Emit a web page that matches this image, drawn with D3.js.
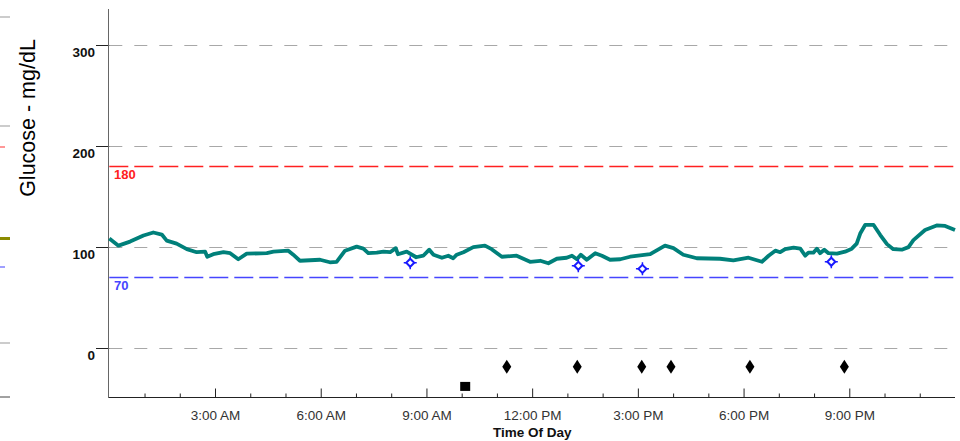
<!DOCTYPE html>
<html>
<head>
<meta charset="utf-8">
<script src="https://cdn.jsdelivr.net/npm/d3@7"></script>
<style>
  body { margin: 0; background: #fff; }
  svg { display: block; font-family: "Liberation Sans", Arial, sans-serif; }
</style>
</head>
<body>
<div id="chart"></div>
<script>
// glucose trace: hour of day, mg/dL
const sensorHours = [0.00,0.26,0.59,0.97,1.25,1.49,1.63,1.91,2.20,2.48,2.72,2.78,2.95,3.24,3.43,3.66,3.90,4.47,4.66,5.08,5.22,5.41,5.98,6.26,6.45,6.69,7.02,7.21,7.35,7.59,7.78,7.97,8.13,8.19,8.44,8.71,8.91,9.08,9.20,9.44,9.62,9.76,9.86,10.05,10.33,10.66,10.85,11.14,11.56,11.94,12.23,12.46,12.70,12.98,13.13,13.27,13.38,13.55,13.79,13.98,14.21,14.50,14.78,15.35,15.77,16.01,16.29,16.67,17.33,17.71,18.14,18.52,18.71,18.90,19.04,19.18,19.42,19.61,19.75,19.84,19.98,20.08,20.17,20.29,20.41,20.65,20.88,21.07,21.21,21.31,21.45,21.69,21.88,22.07,22.25,22.49,22.68,22.82,23.15,23.48,23.72,24.00];
const sensorValues = [108,101,105,111,114,112,106,103,97.5,94.5,95,90,92.5,94.5,93.5,87.5,93,93.5,95,96,92,86,87,84.5,85,96,100,98,93.5,94,95,94.5,98.5,92.5,95,89.5,91,97,92,89,91,88.5,92,94.5,99.5,101,97.5,90,91,85,86,83.5,88,89,91,87.5,92,87,93.5,91,87,87.5,90,92.5,101,98.5,92,88.5,88,86.5,89,85,91,96,94.5,97.5,99,98,91,94,94,98,93.5,97,93.5,93,95,98,103,113,121.5,121.5,111.5,102.5,97.5,97,99.5,106.5,116.5,121,120.5,116.5];

// fingerstick meter readings
const meterHours = [8.54, 13.31, 15.13, 20.49];
const meterValues = [84, 81, 78, 85];

// event markers
const eventHours = [11.28, 13.28, 15.11, 15.94, 18.18, 20.86];
const eventValue = -19;
const otherHours = [10.1];
const otherValue = -39;

const gridValues = [0, 100, 200, 300];
const highLimit = 180;
const lowLimit = 70;
const tickHours = [3, 6, 9, 12, 15, 18, 21];
const tickLabels = ["3:00 AM", "6:00 AM", "9:00 AM", "12:00 PM", "3:00 PM", "6:00 PM", "9:00 PM"];

const width = 960, height = 441;
const svg = d3.select("#chart").append("svg")
  .attr("width", width)
  .attr("height", height);

const x = d3.scaleLinear().domain([0, 24]).range([109.3, 955]);
const y = d3.scaleLinear().domain([-49.5, 336]).range([397.5, 8.5]);

// remnants of the neighbouring chart at the far left
const stubs = [
  {y: 17, w: 10, c: "#999", s: 1},
  {y: 126, w: 10, c: "#999", s: 1},
  {y: 147, w: 5, c: "#ff3030", s: 1},
  {y: 238.5, w: 10, c: "#8b8b00", s: 3},
  {y: 267, w: 5, c: "#4040ff", s: 1},
  {y: 343, w: 10, c: "#999", s: 1},
  {y: 397, w: 10, c: "#444", s: 1}
];
svg.selectAll("line.stub").data(stubs).enter().append("line")
  .attr("class", "stub")
  .attr("x1", 0).attr("x2", d => d.w)
  .attr("y1", d => d.y).attr("y2", d => d.y)
  .attr("stroke", d => d.c).attr("stroke-width", d => d.s);

// y axis label
svg.append("text")
  .attr("transform", "translate(35,118) rotate(-90)")
  .attr("text-anchor", "middle")
  .attr("font-size", "21.5px")
  .attr("fill", "#000")
  .text("Glucose - mg/dL");

// grid lines
svg.selectAll("line.grid").data(gridValues).enter().append("line")
  .attr("class", "grid")
  .attr("x1", x(0)).attr("x2", x(24))
  .attr("y1", d => Math.round(y(d)) + 0.5).attr("y2", d => Math.round(y(d)) + 0.5)
  .attr("stroke", "#a8a8a8")
  .attr("stroke-dasharray", "13,12");

// y ticks + labels
svg.selectAll("line.ytick").data(gridValues).enter().append("line")
  .attr("class", "ytick")
  .attr("x1", 96).attr("x2", x(0))
  .attr("y1", d => Math.round(y(d)) + 0.5).attr("y2", d => Math.round(y(d)) + 0.5)
  .attr("stroke", "#222");
svg.selectAll("text.ylab").data(gridValues).enter().append("text")
  .attr("class", "ylab")
  .attr("x", 95)
  .attr("y", d => y(d) + 12.5)
  .attr("text-anchor", "end")
  .attr("font-size", "13.5px")
  .attr("font-weight", "bold")
  .attr("fill", "#111")
  .text(d => d);

// target limits
const limits = [
  {v: highLimit, c: "#ff2020"},
  {v: lowLimit, c: "#4646ff"}
];
svg.selectAll("line.limit").data(limits).enter().append("line")
  .attr("class", "limit")
  .attr("x1", x(0)).attr("x2", x(24))
  .attr("y1", d => Math.round(y(d.v)) + 0.5).attr("y2", d => Math.round(y(d.v)) + 0.5)
  .attr("stroke", d => d.c)
  .attr("stroke-width", 1.3)
  .attr("stroke-dasharray", "19,6");
svg.selectAll("text.limitlab").data(limits).enter().append("text")
  .attr("class", "limitlab")
  .attr("x", 114)
  .attr("y", d => y(d.v) + 13)
  .attr("font-size", "13px")
  .attr("font-weight", "bold")
  .attr("fill", d => d.c)
  .text(d => d.v);

// axes lines
svg.append("line")
  .attr("x1", 108.5).attr("x2", 108.5)
  .attr("y1", 9).attr("y2", 397)
  .attr("stroke", "#666");

const xAxis = d3.axisBottom(x)
  .tickValues(d3.range(1, 24))
  .tickSize(0)
  .tickFormat(d => {
    const i = tickHours.indexOf(d);
    return i >= 0 ? tickLabels[i] : "";
  });
const gx = svg.append("g")
  .attr("transform", "translate(0,397.5)")
  .call(xAxis);
gx.select(".domain").attr("stroke", "#222").attr("d", `M${x(0) - 1},0H${x(24)}`);
gx.selectAll(".tick line")
  .attr("y2", d => tickHours.includes(d) ? -9 : -4)
  .attr("stroke", "#222");
gx.selectAll(".tick text")
  .attr("y", 13)
  .attr("font-size", "13.5px")
  .attr("font-family", "'Liberation Sans', Arial, sans-serif")
  .attr("fill", "#333");

svg.append("text")
  .attr("x", x(12))
  .attr("y", 437)
  .attr("text-anchor", "middle")
  .attr("font-size", "13.5px")
  .attr("font-weight", "bold")
  .attr("fill", "#111")
  .text("Time Of Day");

// glucose line
const sensor = sensorHours.map((h, i) => ({h: h, v: sensorValues[i]}));
const line = d3.line().x(d => x(d.h)).y(d => y(d.v));
svg.append("path")
  .datum(sensor)
  .attr("d", line)
  .attr("fill", "none")
  .attr("stroke", "#00807a")
  .attr("stroke-width", 3.8)
  .attr("stroke-linejoin", "round");

// meter readings
const meter = svg.selectAll("g.meter")
  .data(meterHours.map((h, i) => ({h: h, v: meterValues[i]})))
  .enter().append("g")
  .attr("class", "meter")
  .attr("transform", d => `translate(${x(d.h)},${y(d.v)})`);
meter.append("path")
  .attr("d", "M-6.5,0H6.5M0,-6.5V6.5")
  .attr("stroke", "#1a1aff")
  .attr("stroke-width", 1.5);
meter.append("path")
  .attr("d", "M0,-4L4,0L0,4L-4,0Z")
  .attr("fill", "#fff")
  .attr("stroke", "#1a1aff")
  .attr("stroke-width", 2);

// events
svg.selectAll("path.event").data(eventHours).enter().append("path")
  .attr("class", "event")
  .attr("transform", d => `translate(${x(d)},${y(eventValue)})`)
  .attr("d", "M0,-7L4.5,0L0,7L-4.5,0Z")
  .attr("fill", "#000");

svg.selectAll("rect.other").data(otherHours).enter().append("rect")
  .attr("class", "other")
  .attr("x", d => x(d) - 5)
  .attr("y", y(otherValue) - 5)
  .attr("width", 10)
  .attr("height", 9)
  .attr("fill", "#000");
</script>
</body>
</html>
